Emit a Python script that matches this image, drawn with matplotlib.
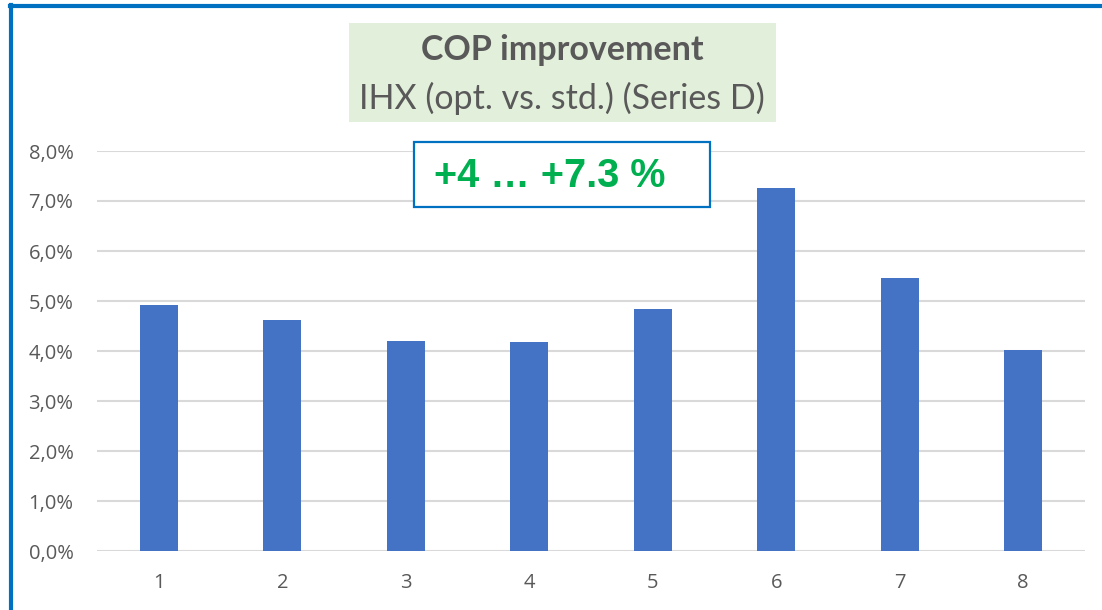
import matplotlib.pyplot as plt
from matplotlib.patches import Rectangle
from matplotlib.lines import Line2D
from matplotlib.ticker import FuncFormatter

categories = ["1", "2", "3", "4", "5", "6", "7", "8"]
improvement = [0.0492, 0.0462, 0.0421, 0.0418, 0.0484, 0.0726, 0.0547, 0.0402]
yticks = [0.0, 0.01, 0.02, 0.03, 0.04, 0.05, 0.06, 0.07, 0.08]

title = "COP improvement"
subtitle = "IHX (opt. vs. std.) (Series D)"
note = "+4 … +7.3 %"

W, H = 1102, 610
GREY = "#595959"
fig = plt.figure(figsize=(W / 100, H / 100), dpi=100)

def fx(px):
    return px / W

def fy(py):
    return 1 - py / H

ax = fig.add_axes([fx(97), fy(551), fx(1085) - fx(97), fy(151) - fy(551)])
ax.bar(range(len(categories)), improvement, width=0.31, color="#4472C4", zorder=3)
ax.set_xlim(-0.5, len(categories) - 0.5)
ax.set_ylim(0, 0.08)
ax.set_yticks(yticks)
ax.yaxis.set_major_formatter(FuncFormatter(lambda v, p: f"{v * 100:.1f}%".replace(".", ",")))
ax.set_xticks(range(len(categories)))
ax.set_xticklabels(categories)
ax.grid(axis="y", color="#D9D9D9", linewidth=1.5, zorder=0)
ax.set_axisbelow(True)
for s in ax.spines.values():
    s.set_visible(False)
ax.tick_params(length=0, colors=GREY, labelsize=14.5)
ax.tick_params(axis="y", pad=17)
ax.tick_params(axis="x", pad=16)
for lab in ax.get_xticklabels() + ax.get_yticklabels():
    lab.set_fontfamily("Open Sans")

# title box
fig.patches.append(Rectangle((fx(349), fy(122)), fx(776) - fx(349), fy(23) - fy(122),
                             transform=fig.transFigure, facecolor="#E2EFDA", edgecolor="none"))
fig.text(fx(562), fy(50), title, ha="center", va="center", fontsize=24.5,
         fontweight="bold", color=GREY, family="Lato")
fig.text(fx(562), fy(98), subtitle, ha="center", va="center", fontsize=24.5,
         color=GREY, family="Lato")

# annotation box
fig.patches.append(Rectangle((fx(414), fy(207)), fx(710) - fx(414), fy(142) - fy(207),
                             transform=fig.transFigure, facecolor="white",
                             edgecolor="#0070C0", linewidth=1.6, zorder=5))
fig.text(fx(434), fy(176), note, ha="left", va="center", fontsize=28.5,
         fontweight="bold", color="#00B050", family="Liberation Sans", zorder=6)

# chart frame (cropped: only top and left edges visible)
fig.lines.append(Line2D([fx(10), 1], [fy(6), fy(6)], transform=fig.transFigure,
                        color="#0070C0", linewidth=3))
fig.lines.append(Line2D([fx(10.5), fx(10.5)], [fy(5), 0], transform=fig.transFigure,
                        color="#0070C0", linewidth=3))

fig.savefig("out.png", dpi=100)
